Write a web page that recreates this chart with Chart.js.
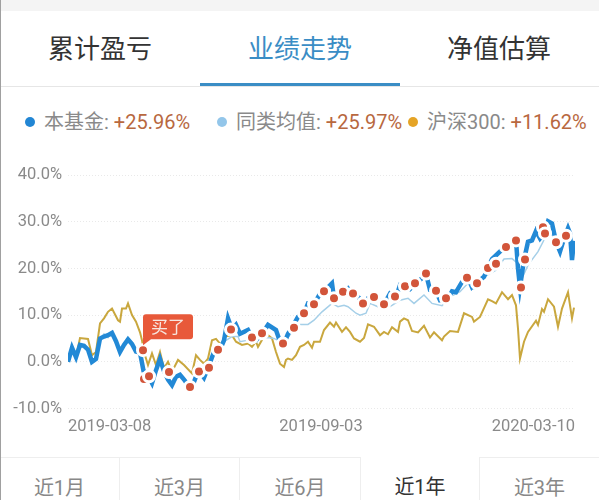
<!DOCTYPE html>
<html>
<head>
<meta charset="utf-8">
<script src="https://cdn.jsdelivr.net/npm/chart.js@4"></script>
<style>
  html, body { margin: 0; padding: 0; background: #fff; }
  body { width: 599px; height: 500px; position: relative; overflow: hidden; font-family: Roboto, "Noto Sans CJK SC", sans-serif; }
  .abs { position: absolute; white-space: nowrap; }
  .topband { left: 0; top: 0; width: 599px; height: 11px; background: #f4f4f4; }
  .edge { left: 0; top: 0; width: 1px; height: 500px; background: #a0a0a0; z-index: 5; }
  .tab { top: 32px; font-size: 26px; line-height: 34px; color: #333; }
  .sep { left: 0; top: 86px; width: 599px; height: 1px; background: #e6e6e6; }
  .under { left: 200px; top: 83px; width: 200px; height: 3px; background: #3a8dc5; }
  .dot { top: 117px; width: 10px; height: 10px; border-radius: 50%; }
  .lg { top: 109px; font-size: 20px; line-height: 26px; color: #8a8a8a; }
  .lg b { font-weight: 400; color: #b8683f; }
  #wrap { position: absolute; left: 0; top: 152px; width: 599px; height: 300px; }
  .range { top: 457px; height: 43px; box-sizing: border-box; border-top: 1px solid #eee; border-right: 1px solid #eee; text-align: center; font-size: 20px; line-height: 60px; color: #888; }
</style>
</head>
<body>
<div class="abs topband"></div>
<div class="abs edge"></div>
<div class="abs tab" style="left:48px">累计盈亏</div>
<div class="abs tab" style="left:248px;color:#3a8dc5">业绩走势</div>
<div class="abs tab" style="left:447px">净值估算</div>
<div class="abs sep"></div>
<div class="abs under"></div>

<div class="abs dot" style="left:25px;background:#2286d4"></div>
<div class="abs lg" style="left:44px">本基金: <b>+25.96%</b></div>
<div class="abs dot" style="left:217px;background:#93c6ea"></div>
<div class="abs lg" style="left:236px">同类均值: <b>+25.97%</b></div>
<div class="abs dot" style="left:408px;background:#e5a426"></div>
<div class="abs lg" style="left:427px">沪深300: <b>+11.62%</b></div>

<div id="wrap"><canvas id="trend"></canvas></div>

<div class="abs range" style="left:0;width:120px">近1月</div>
<div class="abs range" style="left:120px;width:120px">近3月</div>
<div class="abs range" style="left:240px;width:121px">近6月</div>
<div class="abs range" style="left:361px;width:119px;border-top:none;color:#333">近1年</div>
<div class="abs range" style="left:480px;width:119px;border-right:none">近3年</div>

<script>
const dateLabels = ['2019-03-08', '2019-09-03', '2020-03-10'];
const dateDays = [0, 126.5, 253.5];
const yTicks = [-10, 0, 10, 20, 30, 40];

const fundDays = [0,2,4,6,8,10,12,14,16,18,20,22,24,26,28,30,32,34,36,38,40,42,44,46,48,50,52,54,56,58,60,62,64,66,68,70,73,76,78,80,82,84,86,90,92,94,97,100,104,106,108,110,112,115,118,120,123,126,128,132,133,136,138,140,142,145,148,150,153,156,158,161,164,166,168,171,174,176,179,181,184,186,190,192,194,197,200,202,204,208,210,212,216,219,222,224,225,226,228,230,232,234,236,238,240,242,244,246,248,250,251,252,253];
const fundValues = [0,3,1,3.6,3.4,2.6,0,0.6,5,5.4,5.7,6.2,4.4,2.1,3.6,4.8,3.8,2.2,2,-2.5,-3,-4.6,-1.8,0.6,-2,-3.8,-5,-3.2,-2.8,-3.8,-5,-5.4,-3.2,-2.2,-3.4,-1.3,2.1,2.6,4.6,9.3,6.9,7.9,6,6.8,5.2,4.6,6,7.9,6.8,4.3,3.9,6,7.3,9.6,10.4,12.5,12.3,14.6,15.1,16.8,13.6,15,15,15.7,14.6,13.9,12.5,13.6,13.9,13,12.3,14.6,13.9,16.4,16.2,15.6,16.8,17.5,18.8,15.4,15.1,13.2,13.6,15.1,14.9,17.1,18,16,16.8,18.2,20.1,22,23.6,24.6,25.4,26,20,16,21.8,25.7,26,28,26.4,27.5,30.1,29.6,25.7,23.6,26.4,28.6,27.5,21.8,25.9];

const peerDays = [0,2,4,6,8,10,12,14,16,18,20,22,24,26,28,30,32,34,36,38,40,42,44,46,48,50,52,54,56,58,60,62,64,66,68,70,73,76,78,82,85,86,92,100,103,108,112,116,120,123,127,132,135,138,140,144,146,149,151,155,158,162,166,170,173,178,182,187,191,196,200,203,208,214,218,222,225,227,230,235,238,243,246,250,252,253];
const peerValues = [0.2,3,1.2,3.4,3.5,2.4,0.2,0.8,4.8,6,5.2,6.4,4.8,2.5,4,5,4.2,2.4,2,-1.5,-2.4,-3.8,-1.5,0.4,-1.8,-3.4,-4.6,-3,-2.6,-3.4,-4.6,-5,-3,-2,-3,-1,2.1,3.2,4.3,5.4,5.4,4.3,4.8,5.2,5,3.9,6.4,8,8,8.9,10.7,12.5,11.8,12.1,11.8,10.4,10,10.4,12.5,11.8,11.1,12.1,13.2,13.6,12.5,14.3,12.5,12,13.9,15,16.8,15.6,18.2,19.6,22,22.1,21,17.9,20.7,23.6,26.1,27.5,25,27.1,22.9,25.9];

const indexDays = [0,2,4,6,10,12,14,16,18,20,22,25,26,27,29,30,32,34,36,37,38,40,42,44,46,48,50,52,55,58,62,64,66,68,70,72,74,76,77,78,82,84,87,90,92,94,95,98,100,102,104,106,108,109,110,112,114,116,118,120,122,123,126,128,131,133,134,137,139,141,143,146,148,150,153,156,158,160,162,165,166,168,170,172,175,178,181,183,187,188,191,195,198,202,203,206,210,212,214,217,220,222,224,225,226,228,230,234,235,237,238,240,243,245,247,250,252,253];
const indexValues = [0,3,1,5.1,4.9,1.4,2.1,8.2,9.3,10.7,11.4,8.9,8.6,11.4,11.4,12.5,10,8.6,6.3,4.6,2.1,-0.7,1.8,-0.7,2.1,-1.4,0,-2.1,0.4,-0.7,-2.5,1.4,0.4,-0.4,0.7,4.6,4.9,3.9,3.6,5.4,5.7,4.3,3.6,3.9,3.2,4.3,3.2,5.4,5.7,5,2.1,-0.4,-1.1,0.4,0.7,0.4,1.4,3.2,3.6,4.3,3,4.3,4.3,6.8,8.4,7.5,8.4,6.4,7.4,6.4,5,4.3,5.1,8,7.5,5.7,6.4,5.9,7.4,6.4,8.6,9.3,8.9,6.6,6.3,7.7,5.2,6.3,4.6,5.4,6.6,6.4,10.4,9.6,8.6,9.6,13.4,13,12.5,14.9,13.4,14.3,12.1,7.1,0.7,4.3,6.4,8.8,7.9,11.3,10.7,13.4,11.8,7.5,11.4,14.9,9.3,11.6];

// days the fund was bought, with the fund value at that day
const tradeDays = [37.5,38,40.5,50.5,61,65.5,70.5,75,81.5,92,97,107.5,113,118,123,128,133,137.5,142.5,147.5,153,158,163.5,168.5,173.5,179,184,189,199.5,204.5,210,214,219,224,226.5,228.5,237.5,238.5,244,249];
const tradeValues = [2.5,-3.7,-3.1,-2.2,-5.4,-2.1,-1.3,2.6,6.9,5.2,6.1,3.9,7.3,10.4,12.3,15.1,13.6,15,14.6,12.5,13.9,12.3,14,16.2,16.8,18.9,15.2,13.6,18,16.8,20.1,21,24.6,26,15.9,21.9,28.8,27.5,25.6,27];
const buyLabel = '买了';

const pairs = (xs, ys) => xs.map((x, i) => ({ x: x, y: ys[i] }));

// tag above the first trade dot
const buyTag = {
  id: 'buyTag',
  afterDatasetsDraw(chart) {
    const { ctx, scales } = chart;
    const px = scales.x.getPixelForValue(tradeDays[0]);
    const py = scales.y.getPixelForValue(tradeValues[0]);
    const left = px, top = py - 36, w = 50, h = 25;
    ctx.save();
    ctx.fillStyle = '#e8593a';
    ctx.beginPath();
    ctx.roundRect(left, top, w, h, 3);
    ctx.fill();
    ctx.beginPath();
    ctx.moveTo(left, top + h - 2);
    ctx.lineTo(left + 8, top + h);
    ctx.lineTo(left, top + h + 6);
    ctx.fill();
    ctx.fillStyle = '#f7e6df';
    ctx.font = '17px "Noto Sans CJK SC"';
    ctx.textAlign = 'center';
    ctx.textBaseline = 'middle';
    ctx.fillText(buyLabel, left + w / 2, top + h / 2);
    ctx.restore();
  }
};

new Chart(document.getElementById('trend'), {
  type: 'scatter',
  data: {
    datasets: [
      { label: '买入', data: pairs(tradeDays, tradeValues), showLine: false, pointRadius: 5.5, borderWidth: 3, pointBackgroundColor: '#d2553a', pointBorderColor: '#fff' },
      { label: '本基金', data: pairs(fundDays, fundValues), showLine: true, borderColor: '#2289d6', borderWidth: 4.5, pointRadius: 0, tension: 0 },
      { label: '同类均值', data: pairs(peerDays, peerValues), showLine: true, borderColor: '#a5cfe8', borderWidth: 1.5, pointRadius: 0, tension: 0 },
      { label: '沪深300', data: pairs(indexDays, indexValues), showLine: true, borderColor: '#c9a73e', borderWidth: 2, pointRadius: 0, tension: 0 }
    ]
  },
  options: {
    responsive: true,
    maintainAspectRatio: false,
    animation: false,
    layout: { padding: { top: 23, right: 24, left: 0, bottom: 0 } },
    plugins: { legend: { display: false }, tooltip: { enabled: false } },
    scales: {
      x: {
        type: 'linear',
        min: 0,
        max: 253.5,
        grid: { display: false },
        border: { display: false },
        afterBuildTicks: (axis) => { axis.ticks = dateDays.map(v => ({ value: v })); },
        afterFit: (axis) => { axis.height = 43.5; },
        ticks: {
          autoSkip: false,
          maxRotation: 0,
          align: 'inner',
          padding: 0,
          color: '#8a8a8a',
          font: { family: 'Roboto', size: 16.5 },
          callback: (v) => dateLabels[dateDays.indexOf(v)]
        }
      },
      y: {
        min: -10,
        max: 40,
        grid: { color: '#e9e9e9', lineWidth: 1, drawTicks: false },
        border: { display: false, dash: [1, 2] },
        afterBuildTicks: (axis) => { axis.ticks = yTicks.map(v => ({ value: v })); },
        afterFit: (axis) => { axis.width = 68; },
        ticks: {
          padding: 6,
          color: '#8a8a8a',
          font: { family: 'Roboto', size: 16.5 },
          callback: (v) => v.toFixed(1) + '%'
        }
      }
    }
  },
  plugins: [buyTag]
});
</script>
</body>
</html>
